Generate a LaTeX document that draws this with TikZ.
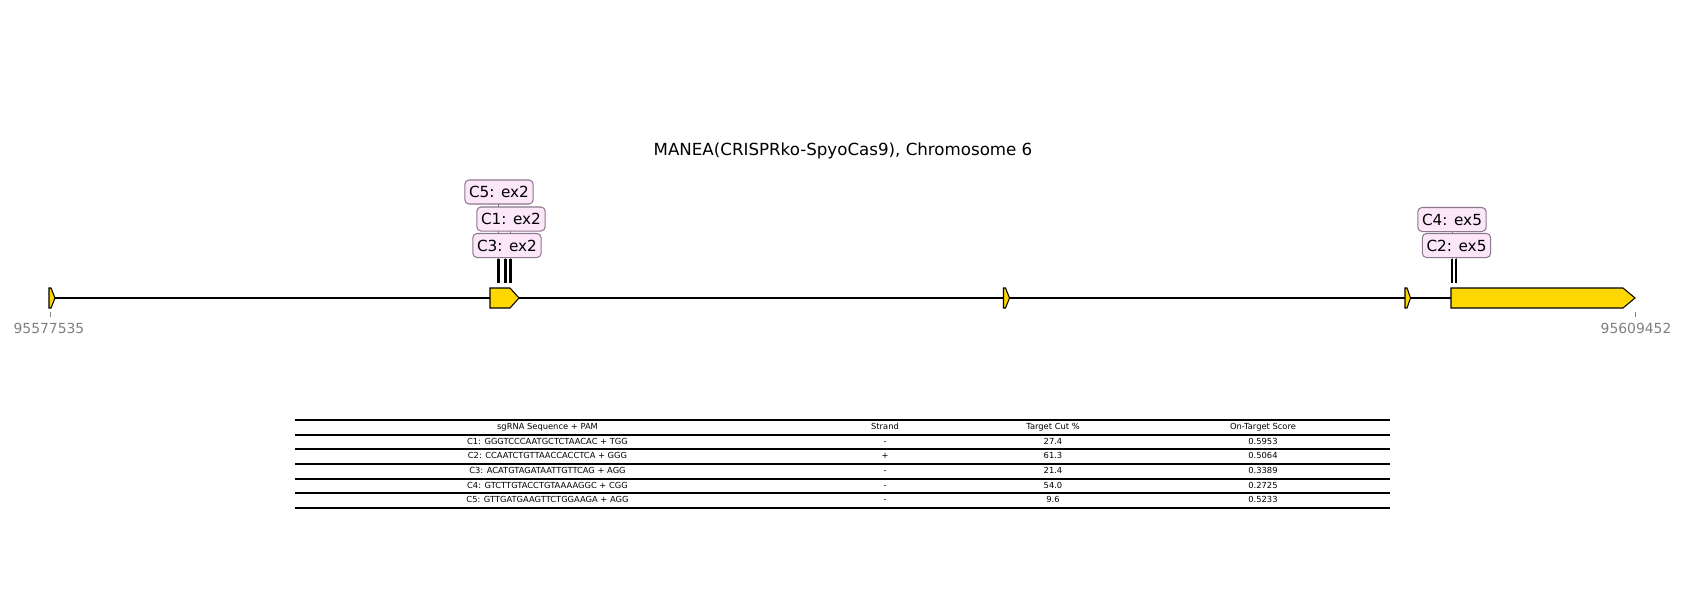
\documentclass[tikz,border=0pt]{standalone}
\usepackage{fontspec}
\setmainfont{DejaVu Sans}
\definecolor{exongold}{HTML}{FFD700}
\definecolor{labelfill}{HTML}{FCE6FA}
\definecolor{labeledge}{HTML}{8C788C}
\definecolor{axisgray}{HTML}{808080}
\begin{document}
\begin{tikzpicture}[x=0.72pt,y=-0.72pt,
  exon/.style={draw=black, fill=exongold, line width=0.75pt, line join=miter},
  backbone/.style={line width=1.4pt},
  cutmark/.style={line width=1.6pt},
  leader/.style={draw=labeledge, line width=0.5pt},
  guidelabel/.style={draw=labeledge, fill=labelfill, rounded corners=3pt,
    line width=0.75pt, inner xsep=3pt, inner ysep=0pt, minimum height=17.3pt,
    font=\fontsize{11}{13}\selectfont},
  ticklabel/.style={text=axisgray, font=\fontsize{10}{12}\selectfont, inner sep=0pt},
  tickmark/.style={draw=axisgray, line width=0.5pt},
  cell/.style={font=\fontsize{6}{7}\selectfont, inner sep=0pt,
    text height=4.4pt, text depth=1.2pt},
  tablerule/.style={line width=1.2pt}
]
\useasboundingbox (0,0) rectangle (1700,600);

% title
\node[font=\fontsize{12}{14}\selectfont] (title) at (843,151) {MANEA(CRISPRko-SpyoCas9), Chromosome 6};

% gene backbone
\coordinate (gstart) at (50,298);
\coordinate (gend) at (1635,298);
\draw[backbone] (gstart) -- (gend);

% exons (forward strand arrows)
\draw[exon] (49,288) -- (51,288) -- (55,298) -- (51,308) -- (49,308) -- cycle;
\draw[exon] (490,288) -- (510,288) -- (519,298) -- (510,308) -- (490,308) -- cycle;
\draw[exon] (1003.5,288) -- (1005.5,288) -- (1009.5,298) -- (1005.5,308) -- (1003.5,308) -- cycle;
\draw[exon] (1405,288) -- (1407,288) -- (1410.5,298) -- (1407,308) -- (1405,308) -- cycle;
\draw[exon] (1451,288) -- (1623,288) -- (1635,298) -- (1623,308) -- (1451,308) -- cycle;

% axis end ticks and labels
\draw[tickmark] (gstart) ++(0,14) -- ++(0,5);
\draw[tickmark] (gend) ++(0,14) -- ++(0,5);
\node[ticklabel] (startpos) at (49,328) {95577535};
\node[ticklabel] (endpos) at (1636,328) {95609452};

% cut sites
\foreach \n/\x in {c5/498.5, c3/505.5, c1/510.5, c4/1452, c2/1456} {
  \coordinate (\n top) at (\x,259);
  \coordinate (\n bot) at (\x,283);
  \draw[cutmark] (\n top) -- (\n bot);
}

% guide labels with leaders
\coordinate (l5) at (499,192);
\coordinate (l1) at (511,219);
\coordinate (l3) at (507,245.5);
\coordinate (l4) at (1452,219.5);
\coordinate (l2) at (1456.5,245.5);
\draw[leader] (c5top) -- (c5top |- l5);
\draw[leader] (c1top) -- (c1top |- l1);
\draw[leader] (c3top) -- (c3top |- l3);
\draw[leader] (c4top) -- (c4top |- l4);
\draw[leader] (c2top) -- (c2top |- l2);
\node[guidelabel] (lab5) at (l5) {C5: ex2};
\node[guidelabel] (lab1) at (l1) {C1: ex2};
\node[guidelabel] (lab3) at (l3) {C3: ex2};
\node[guidelabel] (lab4) at (l4) {C4: ex5};
\node[guidelabel] (lab2) at (l2) {C2: ex5};

% table of guides
\foreach \yy in {420,435,449,464,479,493,508} {
  \draw[tablerule] (295,\yy) -- (1390,\yy);
}
\node[cell] (h1) at (547.5,427.3) {sgRNA Sequence + PAM};
\node[cell] (h2) at (885,427.3) {Strand};
\node[cell] (h3) at (1053,427.3) {Target Cut \%};
\node[cell] (h4) at (1263,427.3) {On-Target Score};
\foreach \i/\seq/\str/\cut/\score in {
  1/{C1: GGGTCCCAATGCTCTAACAC + TGG}/{-}/27.4/0.5953,
  2/{C2: CCAATCTGTTAACCACCTCA + GGG}/{+}/61.3/0.5064,
  3/{C3: ACATGTAGATAATTGTTCAG + AGG}/{-}/21.4/0.3389,
  4/{C4: GTCTTGTACCTGTAAAAGGC + CGG}/{-}/54.0/0.2725,
  5/{C5: GTTGATGAAGTTCTGGAAGA + AGG}/{-}/9.6/0.5233} {
  \node[cell] (r\i c1) at (547.5,427.3+\i*14.667) {\seq};
  \node[cell] (r\i c2) at (885,427.3+\i*14.667) {\str};
  \node[cell] (r\i c3) at (1053,427.3+\i*14.667) {\cut};
  \node[cell] (r\i c4) at (1263,427.3+\i*14.667) {\score};
}
\end{tikzpicture}
\end{document}
